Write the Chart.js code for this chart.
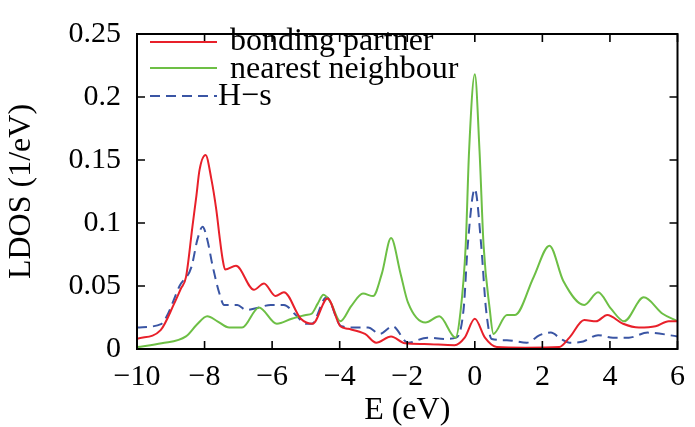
<!DOCTYPE html>
<html>
<head>
<meta charset="utf-8">
<script src="https://cdn.jsdelivr.net/npm/chart.js@4.4.1/dist/chart.umd.min.js"></script>
<style>
html, body { margin: 0; padding: 0; background: #fff; }
</style>
</head>
<body>
<canvas id="ldosCanvas" width="695" height="427"></canvas>
<script>
// bonding partner
var E_bond = [-10, -9.3, -8.9, -8.7, -8.55, -8.36, -8.24, -8.15, -7.97, -7.8, -7.65, -7.56, -7.47, -7.39, -7.07, -6.54, -6.24, -5.9, -5.65, -5.15, -4.8, -4.36, -3.98, -3.75, -3.25, -2.92, -2.48, -2.07, -1.5, -0.6, -0.3, 0.0, 0.3, 0.65, 1.5, 2.5, 2.8, 3.24, 3.59, 3.92, 4.39, 4.86, 5.35, 5.74, 6];
var LDOS_bond = [0.008, 0.015, 0.036, 0.048, 0.057, 0.097, 0.122, 0.142, 0.154, 0.135, 0.110, 0.090, 0.072, 0.063, 0.066, 0.047, 0.052, 0.042, 0.045, 0.024, 0.020, 0.040, 0.018, 0.016, 0.012, 0.005, 0.010, 0.0045, 0.004, 0.003, 0.009, 0.024, 0.009, 0.0015, 0.001, 0.0015, 0.009, 0.023, 0.022, 0.027, 0.020, 0.017, 0.018, 0.022, 0.022];

// nearest neighbour
var E_nn = [-10, -9.27, -8.55, -8.24, -7.92, -7.62, -7.27, -6.89, -6.39, -5.86, -5.42, -5.0, -4.83, -4.65, -4.48, -4.27, -3.98, -3.66, -3.31, -3.01, -2.75, -2.48, -2.2, -1.98, -1.46, -1.05, -0.57, -0.43, -0.27, -0.17, 0.0, 0.14, 0.26, 0.44, 0.55, 0.95, 1.19, 1.74, 2.21, 2.62, 3.24, 3.65, 4.03, 4.42, 5.0, 5.56, 6];
var LDOS_nn = [0.0015, 0.0045, 0.010, 0.019, 0.026, 0.022, 0.017, 0.017, 0.033, 0.020, 0.024, 0.027, 0.028, 0.036, 0.043, 0.037, 0.022, 0.034, 0.044, 0.042, 0.060, 0.088, 0.060, 0.037, 0.021, 0.026, 0.009, 0.028, 0.082, 0.157, 0.218, 0.157, 0.082, 0.032, 0.012, 0.027, 0.027, 0.057, 0.082, 0.054, 0.035, 0.045, 0.032, 0.022, 0.041, 0.028, 0.022];

// H-s
var E_hs = [-10, -9.27, -9.1, -8.94, -8.74, -8.39, -8.21, -8.06, -7.92, -7.77, -7.56, -7.42, -7.03, -6.77, -6.39, -6.04, -5.65, -5.3, -5.0, -4.83, -4.39, -3.95, -3.51, -3.16, -2.81, -2.43, -1.98, -1.4, -0.9, -0.55, -0.33, -0.21, 0.0, 0.19, 0.33, 0.5, 0.95, 1.54, 1.92, 2.25, 2.55, 2.8, 3.21, 3.65, 4.09, 4.56, 5.12, 6];
var LDOS_hs = [0.017, 0.020, 0.027, 0.037, 0.050, 0.065, 0.087, 0.097, 0.087, 0.067, 0.044, 0.035, 0.035, 0.031, 0.033, 0.035, 0.035, 0.027, 0.020, 0.020, 0.041, 0.018, 0.017, 0.017, 0.012, 0.018, 0.005, 0.009, 0.008, 0.009, 0.032, 0.082, 0.127, 0.082, 0.032, 0.008, 0.007, 0.005, 0.011, 0.013, 0.008, 0.005, 0.006, 0.011, 0.009, 0.009, 0.013, 0.010];

var seriesNames = ['bonding partner', 'nearest neighbour', 'H\u2212s'];
var xTicks = [-10, -8, -6, -4, -2, 0, 2, 4, 6];
var yTicks = [0, 0.05, 0.1, 0.15, 0.2, 0.25];

function toPoints(xs, ys) {
	var pts = [];
	for (var i = 0; i < xs.length; i++) {
		pts.push({x: xs[i], y: ys[i]});
	}
	return pts;
}

var colRed = '#e8202a';
var colGreen = '#6dbf45';
var colBlue = '#3a55a4';

Chart.defaults.font.family = "'Liberation Serif', 'DejaVu Serif', serif";
Chart.defaults.color = '#000';

// frame, inward ticks and the key
var framePlugin = {
	id: 'frame',
	afterDraw: function (chart) {
		var ctx = chart.ctx;
		var a = chart.chartArea;
		var xs = chart.scales.x, ys = chart.scales.y;
		ctx.save();
		ctx.strokeStyle = '#000';
		ctx.lineWidth = 1.6;
		ctx.beginPath();
		for (var i = 0; i < xTicks.length; i++) {
			var px = xs.getPixelForValue(xTicks[i]);
			ctx.moveTo(px, a.bottom); ctx.lineTo(px, a.bottom - 8);
			ctx.moveTo(px, a.top); ctx.lineTo(px, a.top + 8);
		}
		for (var j = 0; j < yTicks.length; j++) {
			var py = ys.getPixelForValue(yTicks[j]);
			ctx.moveTo(a.left, py); ctx.lineTo(a.left + 8, py);
			ctx.moveTo(a.right, py); ctx.lineTo(a.right - 8, py);
		}
		ctx.stroke();
		ctx.lineWidth = 2;
		ctx.strokeRect(a.left, a.top, a.right - a.left, a.bottom - a.top);

		// key
		var rows = [
			{y: 42, base: 50, tx: 230, color: colRed, dash: []},
			{y: 68, base: 78, tx: 230, color: colGreen, dash: []},
			{y: 96, base: 105, tx: 218, color: colBlue, dash: [10, 6]}
		];
		ctx.font = "32px 'Liberation Serif', serif";
		ctx.textAlign = 'left';
		ctx.textBaseline = 'alphabetic';
		for (var k = 0; k < rows.length; k++) {
			var r = rows[k];
			ctx.strokeStyle = r.color;
			ctx.lineWidth = 2;
			ctx.setLineDash(r.dash);
			ctx.beginPath();
			ctx.moveTo(150, r.y);
			ctx.lineTo(217, r.y);
			ctx.stroke();
			ctx.setLineDash([]);
			ctx.fillStyle = '#000';
			ctx.fillText(seriesNames[k], r.tx, r.base);
		}
		ctx.restore();
	}
};

var chartdata = {
	datasets: [
		{
			label: seriesNames[0],
			borderColor: colRed,
			borderWidth: 2,
			data: toPoints(E_bond, LDOS_bond)
		},
		{
			label: seriesNames[1],
			borderColor: colGreen,
			borderWidth: 2,
			data: toPoints(E_nn, LDOS_nn)
		},
		{
			label: seriesNames[2],
			borderColor: colBlue,
			borderWidth: 2,
			borderDash: [10, 6],
			data: toPoints(E_hs, LDOS_hs)
		}
	]
};

var ldosChart = new Chart(document.getElementById('ldosCanvas'), {
	type: 'line',
	data: chartdata,
	options: {
		responsive: false,
		animation: false,
		layout: {padding: {left: 0, right: 13, top: 18, bottom: 0}},
		elements: {
			point: {radius: 0},
			line: {fill: false, cubicInterpolationMode: 'monotone'}
		},
		plugins: {
			legend: {display: false},
			tooltip: {enabled: false}
		},
		scales: {
			x: {
				type: 'linear',
				min: -10,
				max: 6,
				afterFit: function (s) { s.height = 78; },
				afterBuildTicks: function (s) {
					s.ticks = xTicks.map(function (v) { return {value: v}; });
				},
				grid: {display: false, drawTicks: false},
				border: {display: false},
				ticks: {
					padding: 10,
					font: {size: 30},
					maxRotation: 0,
					callback: function (v) { return String(v).replace('-', '\u2212'); }
				},
				title: {
					display: true,
					text: 'E (eV)',
					font: {size: 32, lineHeight: 1},
					padding: {top: 0, bottom: 0}
				}
			},
			y: {
				min: 0,
				max: 0.25,
				afterFit: function (s) { s.width = 137; },
				afterBuildTicks: function (s) {
					s.ticks = yTicks.map(function (v) { return {value: v}; });
				},
				grid: {display: false, drawTicks: false},
				border: {display: false},
				ticks: {
					padding: 16,
					font: {size: 30},
					callback: function (v) { return String(Math.round(v * 100) / 100); }
				},
				title: {
					display: true,
					text: 'LDOS (1/eV)',
					font: {size: 32, lineHeight: 1},
					padding: {top: 6, bottom: 0}
				}
			}
		}
	},
	plugins: [framePlugin]
});
</script>
</body>
</html>
